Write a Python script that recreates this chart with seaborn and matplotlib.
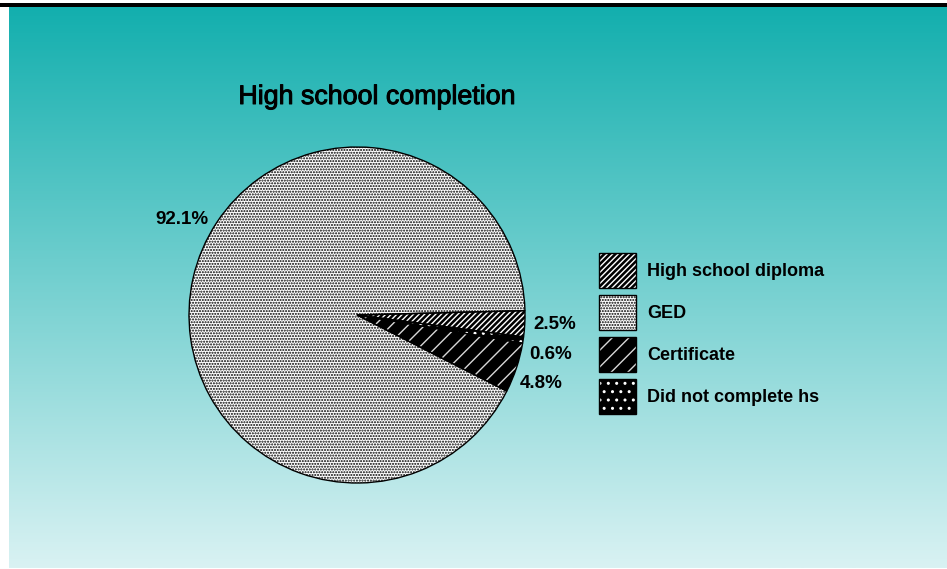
import numpy as np
import matplotlib
matplotlib.use("Agg")
import matplotlib.pyplot as plt
import matplotlib.patheffects as pe
import seaborn as sns
from matplotlib.patches import Patch, Rectangle
from matplotlib.legend_handler import HandlerBase
from matplotlib.colors import LinearSegmentedColormap

# ---- data -------------------------------------------------------------
categories = ["High school diploma", "GED", "Certificate", "Did not complete hs"]
shares = [2.5, 92.1, 4.8, 0.6]
title_text = "High school completion"

# ---- styling ----------------------------------------------------------
sns.set_theme(style="white")
plt.rcParams["font.family"] = ["Liberation Sans", "DejaVu Sans"]
plt.rcParams["text.color"] = "black"
plt.rcParams["hatch.linewidth"] = 1.0

faces = ["black", "white", "black", "black"]
hatch_colors = ["white", "black", "#d8d8d8", "white"]
hatches = ["//////", "......", "//", ".."]


class HandlerStacked(HandlerBase):
    """Draw a tuple of patches on top of each other in one legend box."""

    def create_artists(self, legend, orig_handle, xdescent, ydescent,
                       width, height, fontsize, trans):
        artists = []
        for p in orig_handle:
            r = Rectangle((-xdescent, -ydescent), width, height)
            r.update_from(p)
            r.set_transform(trans)
            artists.append(r)
        return artists


W, H = 947, 569
fig = plt.figure(figsize=(W / 100, H / 100), dpi=100)
fig.patch.set_facecolor("white")

# vertical teal gradient behind the chart
bg = fig.add_axes([9 / W, 1 / H, (W - 9) / W, 561 / H])
grad_cmap = LinearSegmentedColormap.from_list("teal", ["#13afae", "#d9f2f3"])
bg.imshow(np.linspace(0, 1, 256).reshape(-1, 1), cmap=grad_cmap,
          aspect="auto", extent=(0, 1, 0, 1), origin="upper")
bg.set_axis_off()

# heavy rule across the top
fig.add_artist(Rectangle((0, 1 - 7 / H), 1, 4 / H, transform=fig.transFigure,
                         facecolor="black", edgecolor="none"))

# ---- pie ----------------------------------------------------------------
cx, cy, r_px = 357, 569 - 315, 168
half = 190
ax = fig.add_axes([(cx - half) / W, (cy - half) / H, 2 * half / W, 2 * half / H])
start = -7.5

wedges, _ = ax.pie(shares, startangle=start, counterclock=True, colors=faces,
                   radius=1, wedgeprops=dict(linewidth=0))
for w, hc, ht in zip(wedges, hatch_colors, hatches):
    w.set_edgecolor(hc)
    w.set_hatch(ht)
    w.set_linewidth(0)

ax.pie(shares, startangle=start, counterclock=True, radius=1,
       wedgeprops=dict(fill=False, edgecolor="black", linewidth=1.0))

lim = half / r_px
ax.set_xlim(-lim, lim)
ax.set_ylim(-lim, lim)
ax.set_axis_off()


def wrap(a):
    return (a + 180.0) % 360.0 - 180.0


# percentage labels: small slices are fanned out down the right side,
# the large slice is labelled on its upper-left arc
label_dist = 1.05
angles = []
for w in wedges:
    span = w.theta2 - w.theta1
    if span > 180:
        angles.append(wrap(w.theta1 + 0.44 * span))
    else:
        angles.append(wrap(0.5 * (w.theta1 + w.theta2)))
small = sorted([i for i, v in enumerate(shares) if v < 50],
               key=lambda i: -angles[i])
prev = None
for i in small:
    if prev is not None and angles[i] > prev - 10:
        angles[i] = prev - 10
    prev = angles[i]

for v, a in zip(shares, angles):
    t = np.deg2rad(a)
    x, y = label_dist * np.cos(t), label_dist * np.sin(t)
    ax.text(x, y, f"{v:.1f}%", ha="left" if x > 0 else "right", va="center",
            fontsize=13.5, fontweight="bold", color="black")

# ---- title ----------------------------------------------------------------
fig.text(376.5 / W, 1 - 97 / H, title_text, ha="center", va="center",
         fontsize=19.3, color="black",
         path_effects=[pe.withStroke(linewidth=0.7, foreground="black")])

# ---- legend ---------------------------------------------------------------
handles = []
for fc, hc, ht in zip(faces, hatch_colors, hatches):
    fill = Patch(facecolor=fc, edgecolor=hc, hatch=ht, linewidth=0)
    frame = Patch(facecolor="none", edgecolor="black", linewidth=1.0)
    handles.append((fill, frame))

fs = 13
fs_px = fs * 100 / 72
box_h = 35 / fs_px
ax.legend(handles, categories, handler_map={tuple: HandlerStacked()},
          loc="upper left", bbox_to_anchor=(599 / W, 1 - 253 / H),
          bbox_transform=fig.transFigure, frameon=False,
          prop=dict(size=fs, weight="bold"),
          handlelength=37 / fs_px, handleheight=(box_h - 0.245) / 0.65,
          labelspacing=7 / fs_px, handletextpad=11 / fs_px,
          borderpad=0, borderaxespad=0)

fig.savefig("out.png", dpi=100)
